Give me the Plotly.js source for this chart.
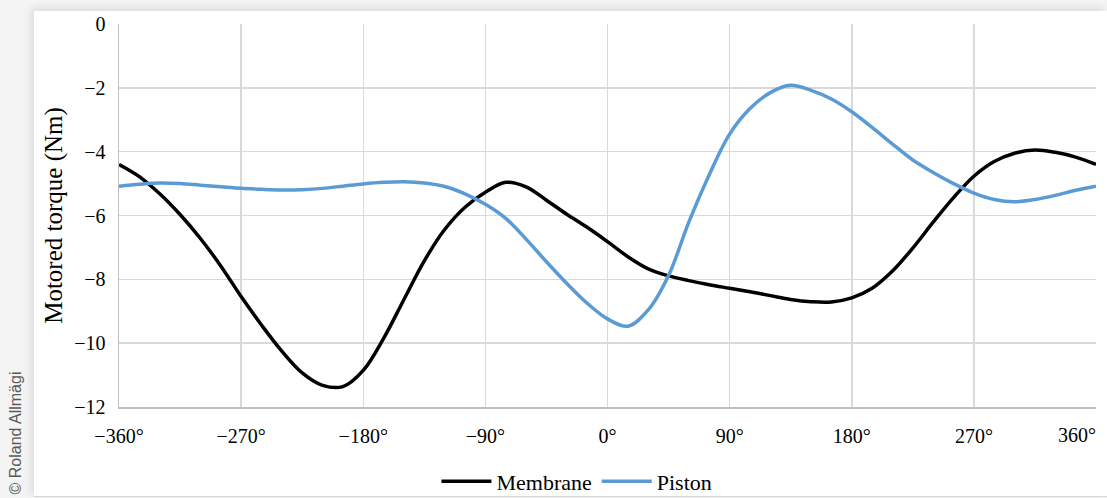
<!DOCTYPE html>
<html>
<head>
<meta charset="utf-8">
<script src="https://cdn.plot.ly/plotly-3.0.1.min.js"></script>
<style>
  html, body { margin: 0; padding: 0; }
  body {
    width: 1107px; height: 498px; overflow: hidden; position: relative;
    background: #f4f4f4;
  }
  #card {
    position: absolute; left: 34px; top: 11px; width: 1073px; height: 485px;
    background: #ffffff;
    box-shadow: -3px -3px 8px rgba(0,0,0,0.10);
    border-bottom: 1px solid #d6d6d6;
  }
  #chart { position: absolute; left: 0; top: 0; width: 1073px; height: 485px; }
  #credit {
    position: absolute; left: 16px; top: 433px;
    transform: translate(-50%, -50%) rotate(-90deg);
    white-space: nowrap;
    font-family: "Liberation Sans", Arial, sans-serif;
    font-size: 16px; color: #595959;
  }
</style>
</head>
<body>
<div id="credit">© Roland Allmägi</div>
<div id="card"><div id="chart"></div></div>
<script>
// Crank angle (degrees), sampled every 15°
const crankAngle = [
  -360, -345, -330, -315, -300, -285, -270, -255, -240, -225, -210, -195,
  -180, -165, -150, -135, -120, -105, -90, -75, -60, -45, -30, -15,
  0, 15, 30, 45, 60, 75, 90, 105, 120, 135, 150, 165,
  180, 195, 210, 225, 240, 255, 270, 285, 300, 315, 330, 345, 360
];

// Motored torque (Nm), membrane configuration
const membraneTorque = [
  -4.40, -4.78, -5.32, -5.97, -6.72, -7.58, -8.54, -9.43, -10.25, -10.93, -11.32, -11.36,
  -10.85, -9.85, -8.63, -7.42, -6.44, -5.74, -5.27, -4.96, -5.10, -5.52, -5.96, -6.37,
  -6.82, -7.29, -7.67, -7.89, -8.04, -8.17, -8.28, -8.39, -8.51, -8.63, -8.70, -8.71,
  -8.58, -8.28, -7.74, -7.02, -6.21, -5.44, -4.77, -4.31, -4.05, -3.95, -4.02, -4.17, -4.40
];

// Motored torque (Nm), piston configuration
const pistonTorque = [
  -5.08, -5.02, -4.98, -5.00, -5.05, -5.10, -5.15, -5.18, -5.20, -5.19, -5.15, -5.08,
  -5.01, -4.96, -4.94, -4.98, -5.09, -5.32, -5.65, -6.09, -6.74, -7.45, -8.13, -8.75,
  -9.24, -9.47, -8.96, -7.88, -6.20, -4.72, -3.45, -2.65, -2.15, -1.92, -2.08, -2.35,
  -2.75, -3.24, -3.76, -4.26, -4.65, -5.00, -5.30, -5.50, -5.57, -5.50, -5.37, -5.21, -5.08
];

// Axis ticks: every 90° of crank angle, every 2 Nm of torque
const angleRange = [-360, 360];
const angleStep = 90;
const angleSuffix = '°';
const torqueRange = [-12, 0];
const torqueStep = 2;
// Label for the right end of the angle axis, kept inside the frame
const lastAngleLabel = '360°';

const serif = 'Liberation Serif';

const traces = [
  {
    x: crankAngle, y: membraneTorque, name: 'Membrane', type: 'scatter', mode: 'lines',
    line: { color: '#000000', width: 3.5, shape: 'spline', smoothing: 1 }
  },
  {
    x: crankAngle, y: pistonTorque, name: 'Piston', type: 'scatter', mode: 'lines',
    line: { color: '#5b9bd5', width: 3.5, shape: 'spline', smoothing: 1 }
  }
];

const layout = {
  width: 1073, height: 485,
  margin: { l: 85, r: 11, t: 13, b: 89 },
  paper_bgcolor: 'rgba(0,0,0,0)',
  plot_bgcolor: '#ffffff',
  font: { family: serif, size: 20, color: '#000000' },
  showlegend: true,
  legend: {
    orientation: 'h', x: 0.506, xanchor: 'center', xref: 'container',
    y: 0.03, yanchor: 'middle', yref: 'container',
    font: { size: 22, color: '#000000' },
    itemwidth: 50, tracegroupgap: 0
  },
  annotations: [{
    text: lastAngleLabel,
    xref: 'x', x: angleRange[1], xanchor: 'right', xshift: 2,
    yref: 'paper', y: 0, yanchor: 'top', yshift: -15,
    showarrow: false,
    font: { size: 20, color: '#000000' }
  }],
  xaxis: {
    range: angleRange,
    tickmode: 'linear', tick0: 0, dtick: angleStep, ticksuffix: angleSuffix,
    ticklabeloverflow: 'hide past div',
    showgrid: true, gridcolor: '#d9d9d9', gridwidth: 1.5,
    showline: true, linecolor: '#bfbfbf', linewidth: 1.5,
    zeroline: false, ticks: '', ticklabelstandoff: 10,
    fixedrange: true, automargin: false
  },
  yaxis: {
    range: torqueRange,
    tickmode: 'linear', tick0: 0, dtick: torqueStep,
    showgrid: true, gridcolor: '#d9d9d9', gridwidth: 1.5,
    showline: true, linecolor: '#bfbfbf', linewidth: 1.5,
    zeroline: false, ticks: '', ticklabelstandoff: 8,
    title: { text: 'Motored torque (Nm)', font: { size: 25, color: '#000000' }, standoff: 4 },
    fixedrange: true, automargin: false
  }
};

Plotly.newPlot('chart', traces, layout, { displayModeBar: false, staticPlot: true });
</script>
</body>
</html>
